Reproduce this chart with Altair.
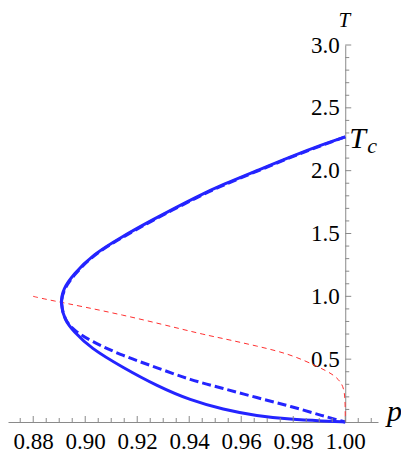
import altair as alt
import pandas as pd

# ---------------- data ----------------
solid_p = [1.0, 0.9915, 0.9788, 0.966, 0.953, 0.9441, 0.925, 0.9135, 0.9031, 0.8954, 0.8915, 0.8904,
           0.8921, 0.8954, 0.9019, 0.9146, 0.9277, 0.9404, 0.953, 0.966, 0.979, 0.9915, 1.0]
solid_T = [2.269, 2.21, 2.11, 2.00, 1.89, 1.806, 1.60, 1.466, 1.334, 1.175, 1.06, 0.947,
           0.81, 0.724, 0.59, 0.432, 0.286, 0.173, 0.10, 0.048, 0.021, 0.008, 0.0]

dashed_p = [1.0, 0.9915, 0.9788, 0.966, 0.953, 0.9441, 0.925, 0.9135, 0.9031, 0.8956, 0.8917, 0.8905,
            0.8922, 0.8956, 0.902, 0.9146, 0.9277, 0.9404, 0.953, 0.966, 0.9788, 0.9915, 1.0]
dashed_T = [2.269, 2.205, 2.105, 1.995, 1.885, 1.80, 1.595, 1.46, 1.33, 1.17, 1.055, 0.945,
            0.81, 0.73, 0.645, 0.525, 0.432, 0.334, 0.268, 0.193, 0.127, 0.048, 0.0]

red_p = [0.88, 0.8838, 0.9146, 0.9441, 0.9518, 0.966, 0.9788, 0.989, 0.9954, 0.9988, 1.0, 1.0]
red_T = [1.0, 0.98, 0.855, 0.702, 0.67, 0.605, 0.54, 0.445, 0.38, 0.31, 0.22, 0.0]

T_c = 2.269

x_major = [0.88, 0.90, 0.92, 0.94, 0.96, 0.98, 1.00]
x_minor = [0.87, 0.875, 0.885, 0.89, 0.895, 0.905, 0.91, 0.915, 0.925, 0.93, 0.935,
           0.945, 0.95, 0.955, 0.965, 0.97, 0.975, 0.985, 0.99, 0.995, 1.005, 1.01]
y_major = [0.5, 1.0, 1.5, 2.0, 2.5, 3.0]
y_minor = [0.1, 0.2, 0.3, 0.4, 0.6, 0.7, 0.8, 0.9, 1.1, 1.2, 1.3, 1.4, 1.6, 1.7, 1.8, 1.9,
           2.1, 2.2, 2.3, 2.4, 2.6, 2.7, 2.8, 2.9]

# ---------------- layout ----------------
W, H = 370, 377
x_dom = [0.8703, 1.0126]
y_dom = [0.0, 3.0]
px_per_p = W / (x_dom[1] - x_dom[0])
px_per_T = H / (y_dom[1] - y_dom[0])
axis_x_px = (1.0 - x_dom[0]) * px_per_p

SERIF = "Liberation Serif, Times New Roman, serif"
GRAY = "#8a8a8a"
BLUE = "#2424ff"

xs = alt.Scale(domain=x_dom, nice=False, zero=False)
ys = alt.Scale(domain=y_dom, nice=False, zero=False)

x_axis = alt.Axis(values=x_major, format=".2f", ticks=False, tickSize=0, grid=False,
                  labelFont=SERIF, labelFontSize=23, labelColor="black", labelPadding=8,
                  domainColor=GRAY, domainWidth=1, labelFlush=False, labelOverlap=False,
                  labelBound=False, title=None)
y_axis = alt.Axis(orient="left", offset=-axis_x_px, values=y_major, format=".1f", ticks=False,
                  tickSize=0, grid=False, labelFont=SERIF, labelFontSize=23, labelColor="black",
                  labelPadding=6, domainColor=GRAY, domainWidth=1, labelOverlap=False,
                  labelFlush=False, labelBound=False, title=None)

X = alt.X("p:Q", scale=xs, axis=x_axis, title=None)
Y = alt.Y("T:Q", scale=ys, axis=y_axis, title=None)


def curve(ps, ts):
    return pd.DataFrame({"p": ps, "T": ts, "i": list(range(len(ps)))})


solid = alt.Chart(curve(solid_p, solid_T)).mark_line(
    color=BLUE, strokeWidth=3, interpolate="basis"
).encode(x=X, y=Y, order="i:Q")

dashed = alt.Chart(curve(dashed_p, dashed_T)).mark_line(
    color=BLUE, strokeWidth=3, strokeDash=[9, 4], interpolate="basis"
).encode(x=X, y=Y, order="i:Q")

red = alt.Chart(curve(red_p, red_T)).mark_line(
    color="#ff3030", strokeWidth=1, strokeDash=[5, 4], interpolate="basis"
).encode(x=X, y=Y, order="i:Q")

# tick marks (pointing into the plot)
xt = pd.DataFrame({
    "p": x_major + x_minor,
    "T": [0.0] * (len(x_major) + len(x_minor)),
    "T2": [6 / px_per_T] * len(x_major) + [4 / px_per_T] * len(x_minor),
})
xticks = alt.Chart(xt).mark_rule(color=GRAY, strokeWidth=1).encode(
    x=X, y=Y, y2="T2:Q")

yt = pd.DataFrame({
    "T": y_major + y_minor,
    "p": [1.0] * (len(y_major) + len(y_minor)),
    "p2": [1.0 + 6 / px_per_p] * len(y_major) + [1.0 + 4 / px_per_p] * len(y_minor),
})
yticks = alt.Chart(yt).mark_rule(color=GRAY, strokeWidth=1).encode(
    x=X, x2="p2:Q", y=Y)

# annotations
lab_T = alt.Chart(pd.DataFrame({"p": [1.0], "T": [3.0], "t": ["T"]})).mark_text(
    font=SERIF, fontSize=21, fontStyle="italic", align="center", baseline="alphabetic",
    dy=-18, dx=-1, color="black"
).encode(x=X, y=Y, text="t:N")

lab_Tc = alt.Chart(pd.DataFrame({"p": [1.0], "T": [T_c], "t": ["T"]})).mark_text(
    font=SERIF, fontSize=30, fontStyle="italic", align="left", baseline="alphabetic",
    dx=4, dy=11, color="black"
).encode(x=X, y=Y, text="t:N")

lab_c = alt.Chart(pd.DataFrame({"p": [1.0], "T": [T_c], "t": ["c"]})).mark_text(
    font=SERIF, fontSize=22, fontStyle="italic", align="left", baseline="alphabetic",
    dx=22, dy=16, color="black"
).encode(x=X, y=Y, text="t:N")

lab_p = alt.Chart(pd.DataFrame({"p": [x_dom[1]], "T": [0.0], "t": ["p"]})).mark_text(
    font=SERIF, fontSize=30, fontStyle="italic", align="left", baseline="alphabetic",
    dx=9, dy=-1, color="black"
).encode(x=X, y=Y, text="t:N")

chart = alt.layer(
    red, solid, dashed, xticks, yticks, lab_T, lab_Tc, lab_c, lab_p
).properties(
    width=W, height=H,
    autosize=alt.AutoSizeParams(type="none"),
    padding={"left": 0, "top": 37, "right": 23, "bottom": 32},
    background="white",
).configure_view(stroke=None)

chart.save("out.html", embed_options={"renderer": "svg", "actions": False})
